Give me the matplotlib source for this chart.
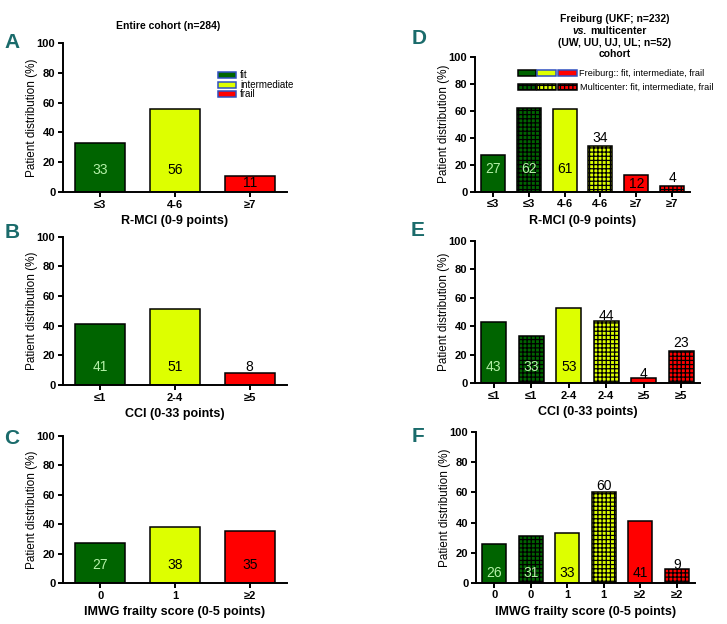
import matplotlib
matplotlib.use("Agg")
import matplotlib.pyplot as plt
from matplotlib.patches import Rectangle

plt.rcParams['font.family'] = ['Liberation Sans', 'DejaVu Sans']
plt.rcParams['hatch.linewidth'] = 0.9

# data
cats_rmci = ['≤3', '4-6', '≥7']
vals_rmci = [33, 56, 11]
cats_cci = ['≤1', '2-4', '≥5']
vals_cci = [41, 51, 8]
cats_imwg = ['0', '1', '≥2']
vals_imwg = [27, 38, 35]

cats_rmci_cmp = ['≤3', '≤3', '4-6', '4-6', '≥7', '≥7']
vals_rmci_cmp = [27, 62, 61, 34, 12, 4]
cats_cci_cmp = ['≤1', '≤1', '2-4', '2-4', '≥5', '≥5']
vals_cci_cmp = [43, 33, 53, 44, 4, 23]
cats_imwg_cmp = ['0', '0', '1', '1', '≥2', '≥2']
vals_imwg_cmp = [26, 31, 33, 60, 41, 9]

GREEN = '#006400'
YELLOW = '#ddff00'
RED = '#ff0000'
LIGHT = '#b4f0a8'
TEAL = '#1a6b6b'
BLUE = '#2f4fc0'

# where the numbers sit on each panel (y in data units)
lab_a = [15, 15, 6]
lab_b = [12, 12, 12]
lab_c = [12.5, 12.5, 12.5]
lab_d = [17, 17, 17, 40, 6, 10]
lab_e = [11.6, 11.6, 11.6, 47, 6.5, 28.5]
lab_f = [6.5, 6.5, 6.5, 64, 6.5, 12]

W, H = 727, 624
fig = plt.figure(figsize=(W / 100, H / 100), dpi=100)


def px_axes(x0, x1, y0, y100):
    return fig.add_axes([x0 / W, 1 - y0 / H, (x1 - x0) / W, (y0 - y100) / H])


def style(ax, cats, xlabel):
    ax.set_ylim(0, 100)
    ax.set_xlim(-0.5, len(cats) - 0.5)
    ax.set_yticks(range(0, 101, 20))
    ax.set_xticks(range(len(cats)))
    ax.set_xticklabels(cats)
    for s in ['top', 'right']:
        ax.spines[s].set_visible(False)
    for s in ['left', 'bottom']:
        ax.spines[s].set_linewidth(1.4)
    ax.tick_params(width=1.4, length=3.5, labelsize=8, pad=2)
    for t in ax.get_xticklabels() + ax.get_yticklabels():
        t.set_fontweight('bold')
    ax.set_ylabel('Patient distribution (%)', fontsize=8.5, labelpad=-1)
    ax.set_xlabel(xlabel, fontsize=9, fontweight='bold', labelpad=4)


def draw(ax, cats, vals, labs, colors, hatched):
    x = list(range(len(cats)))
    bars = ax.bar(x, vals, width=0.67, color=colors, edgecolor='black',
                  linewidth=1.1, zorder=2)
    for b, h in zip(bars, hatched):
        if h:
            b.set_hatch('++++')
    for i, (v, ly, c) in enumerate(zip(vals, labs, colors)):
        tc = LIGHT if (c == GREEN and ly < v) else 'black'
        ax.text(i, ly, str(v), ha='center', va='center', fontsize=10,
                color=tc, zorder=3)


col3 = [GREEN, YELLOW, RED]
col6 = [GREEN, GREEN, YELLOW, YELLOW, RED, RED]
hat3 = [False] * 3
hat6 = [False, True] * 3

axA = px_axes(63, 287, 192, 43)
draw(axA, cats_rmci, vals_rmci, lab_a, col3, hat3)
style(axA, cats_rmci, 'R-MCI (0-9 points)')

axB = px_axes(63, 287, 385, 236.7)
draw(axB, cats_cci, vals_cci, lab_b, col3, hat3)
style(axB, cats_cci, 'CCI (0-33 points)')

axC = px_axes(63, 287, 583, 435.7)
draw(axC, cats_imwg, vals_imwg, lab_c, col3, hat3)
style(axC, cats_imwg, 'IMWG frailty score (0-5 points)')

axD = px_axes(475, 690, 191.7, 56.7)
draw(axD, cats_rmci_cmp, vals_rmci_cmp, lab_d, col6, hat6)
style(axD, cats_rmci_cmp, 'R-MCI (0-9 points)')

axE = px_axes(475, 700, 383.3, 240.7)
draw(axE, cats_cci_cmp, vals_cci_cmp, lab_e, col6, hat6)
style(axE, cats_cci_cmp, 'CCI (0-33 points)')

axF = px_axes(476, 695, 582.7, 432.3)
draw(axF, cats_imwg_cmp, vals_imwg_cmp, lab_f, col6, hat6)
style(axF, cats_imwg_cmp, 'IMWG frailty score (0-5 points)')

# panel letters
for letter, xp, yp in [('A', 12, 43), ('B', 12, 233), ('C', 12, 439),
                       ('D', 419, 39), ('E', 418, 230), ('F', 418, 437)]:
    fig.text(xp / W, 1 - yp / H, letter, fontsize=15, fontweight='bold',
             color=TEAL, ha='center', va='center',
             family=['Liberation Sans Narrow', 'Liberation Sans'])

# titles
fig.text(168 / W, 1 - 25.7 / H, 'Entire cohort (n=284)', fontsize=7.5,
         fontweight='bold', ha='center', va='center')
fig.text(615 / W, 1 - 19.3 / H, 'Freiburg (UKF; n=232)', fontsize=7.5,
         fontweight='bold', ha='center', va='center')
fig.text(587 / W, 1 - 31 / H, 'vs.', fontsize=7.5, fontweight='bold',
         style='italic', ha='right', va='center')
fig.text(590 / W, 1 - 31 / H, 'multicenter', fontsize=7.5, fontweight='bold',
         ha='left', va='center')
fig.text(615 / W, 1 - 42.7 / H, '(UW, UU, UJ, UL; n=52)', fontsize=7.5,
         fontweight='bold', ha='center', va='center')
fig.text(615 / W, 1 - 53.8 / H, 'cohort', fontsize=7.5,
         fontweight='bold', ha='center', va='center')


def legend_box(x0, x1, yc, face, edge, hatch=None):
    r = Rectangle((x0 / W, 1 - (yc + 3) / H), (x1 - x0) / W, 6 / H,
                  transform=fig.transFigure, facecolor=face, edgecolor=edge,
                  linewidth=1.1, hatch=hatch, zorder=5)
    fig.add_artist(r)


# legend A
for name, col, yc in [('fit', GREEN, 74.7), ('intermediate', YELLOW, 84.7),
                      ('frail', RED, 94.3)]:
    legend_box(218, 236, yc, col, BLUE)
    fig.text(240 / W, 1 - yc / H, name, fontsize=7, ha='left', va='center')

# legend D
for x0, x1, col in [(518, 535.7, GREEN), (536.7, 555.7, YELLOW),
                    (557.7, 576.7, RED)]:
    legend_box(x0, x1, 73.3, col, 'black' if col == GREEN else BLUE)
    legend_box(x0, x1, 87.3, col, 'black', hatch='++++')
fig.text(579.3 / W, 1 - 73.3 / H, 'Freiburg:: fit, intermediate, frail',
         fontsize=6.6, ha='left', va='center')
fig.text(580.5 / W, 1 - 87.3 / H, 'Multicenter: fit, intermediate, frail',
         fontsize=6.6, ha='left', va='center')

fig.savefig('out.png', dpi=100)
